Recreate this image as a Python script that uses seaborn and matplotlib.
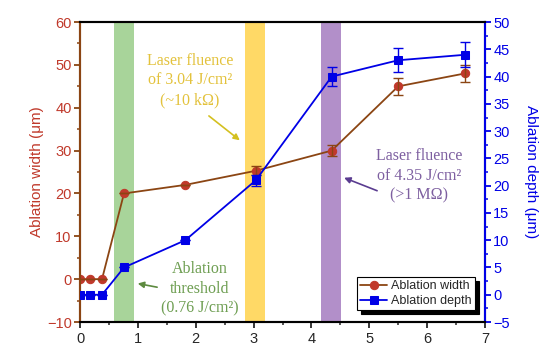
import matplotlib
matplotlib.use("Agg")
import matplotlib.pyplot as plt
from matplotlib.ticker import MultipleLocator
import seaborn as sns
import pandas as pd

# fluence (J/cm^2)
fluence = [0.0, 0.17, 0.38, 0.76, 1.82, 3.04, 4.35, 5.5, 6.65]
# ablation width (um), left axis
width = [0, 0, 0, 20, 22, 25.3, 30, 45, 48]
width_err = [0, 0, 0, 0, 0, 1.0, 1.2, 2.0, 2.0]
# ablation depth (um), right axis
depth = [0, 0, 0, 5, 10, 21, 40, 43, 44]
depth_err = [0, 0, 0, 0, 0, 1.0, 1.8, 2.2, 2.3]

# highlighted fluence bands (start, end)
bands = [(0.59, 0.93), (2.86, 3.19), (4.16, 4.51)]
band_colors = ["#a8d49a", "#ffd966", "#b28fc9"]

df = pd.DataFrame({"fluence": fluence, "width": width, "depth": depth})

sns.set_style("ticks")
plt.rcParams["font.family"] = ["Liberation Sans", "DejaVu Sans"]

brown = "#8b4513"
red = "#c0392b"
blue = "#0000e6"

fig = plt.figure(figsize=(5.5, 3.56), dpi=100)
ax = fig.add_axes([0.1455, 0.0955, 0.7363, 0.8425])
ax2 = ax.twinx()

for (x0, x1), c in zip(bands, band_colors):
    ax.axvspan(x0, x1, color=c, lw=0, zorder=0)

sns.lineplot(data=df, x="fluence", y="width", ax=ax, color=brown, lw=1.3,
             marker="o", markersize=6, markerfacecolor=red,
             markeredgecolor=red, label="Ablation width", legend=False, zorder=3)
ax.errorbar(fluence, width, yerr=width_err, fmt="none", ecolor=brown,
            elinewidth=1, capsize=3.5, capthick=1, zorder=3)

sns.lineplot(data=df, x="fluence", y="depth", ax=ax2, color=blue, lw=1.3,
             marker="s", markersize=6, markerfacecolor=blue,
             markeredgecolor=blue, label="Ablation depth", legend=False, zorder=3)
ax2.errorbar(fluence, depth, yerr=depth_err, fmt="none", ecolor=blue,
             elinewidth=1, capsize=3.5, capthick=1, zorder=3)

ax.set_xlim(0, 7)
ax.set_ylim(-10, 60)
ax2.set_ylim(-5, 50)
ax.xaxis.set_major_locator(MultipleLocator(1))
ax.xaxis.set_minor_locator(MultipleLocator(0.5))
ax.yaxis.set_major_locator(MultipleLocator(10))
ax.yaxis.set_minor_locator(MultipleLocator(5))
ax2.yaxis.set_major_locator(MultipleLocator(5))
ax2.yaxis.set_minor_locator(MultipleLocator(2.5))

ax.set_xlabel("")
ax.set_ylabel("Ablation width (\u03bcm)", color=red, fontsize=11, labelpad=2)
ax2.set_ylabel("Ablation depth (\u03bcm)", color=blue, fontsize=11, labelpad=20,
               rotation=270)

for a in (ax, ax2):
    for s in a.spines.values():
        s.set_linewidth(1.5)
ax2.spines["left"].set_color(brown)
ax2.spines["right"].set_color(blue)
ax2.spines["top"].set_color("black")
ax2.spines["bottom"].set_color("black")
ax.spines["left"].set_color(brown)

ax.tick_params(axis="x", which="major", labelsize=10.5, length=4, width=1.3, direction="out")
ax.tick_params(axis="x", which="minor", length=2.5, width=1.1, direction="out")
ax.tick_params(axis="y", which="major", labelsize=10.5, length=4, width=1.3,
               colors=brown, labelcolor=red, pad=2)
ax.tick_params(axis="y", which="minor", length=2.5, width=1.1, colors=brown)
ax2.tick_params(axis="y", which="major", labelsize=10.5, length=4, width=1.3,
                colors=blue, pad=2)
ax2.tick_params(axis="y", which="minor", length=2.5, width=1.1, colors=blue)

serif = ["Liberation Serif", "DejaVu Serif"]
ax.text(1.9, 46.4, "Laser fluence\nof 3.04 J/cm\u00b2\n(~10 k\u03a9)", ha="center", va="center",
        color="#e3c23c", fontsize=11.5, family=serif, linespacing=1.3)
ax.annotate("", xy=(2.80, 32), xytext=(2.19, 38.5),
            arrowprops=dict(arrowstyle="-|>", color="#d4c020", lw=1.2, mutation_scale=9))

ax.text(2.07, -2.3, "Ablation\nthreshold\n(0.76 J/cm\u00b2)", ha="center", va="center",
        color="#6e9e52", fontsize=11.5, family=serif, linespacing=1.3)
ax.annotate("", xy=(0.95, -0.9), xytext=(1.38, -2.0),
            arrowprops=dict(arrowstyle="-|>", color="#5d8a3f", lw=1.2, mutation_scale=9))

ax.text(5.86, 24.1, "Laser fluence\nof 4.35 J/cm\u00b2\n(>1 M\u03a9)", ha="center", va="center",
        color="#7d5fa0", fontsize=11.5, family=serif, linespacing=1.3)
ax.annotate("", xy=(4.52, 23.9), xytext=(5.18, 20.4),
            arrowprops=dict(arrowstyle="-|>", color="#5a3c90", lw=1.2, mutation_scale=9))

h1, l1 = ax.get_legend_handles_labels()
h2, l2 = ax2.get_legend_handles_labels()
leg = ax2.legend(h1 + h2, l1 + l2, loc="lower right", bbox_to_anchor=(0.975, 0.04),
                 borderaxespad=0.0,
                 fontsize=9, frameon=True, fancybox=False,
                 shadow={"color": "black", "alpha": 1.0, "ox": 3, "oy": -3},
                 edgecolor="black", borderpad=0.25, handlelength=2.2,
                 handletextpad=0.3, labelspacing=0.2)
leg.get_frame().set_linewidth(0.8)

fig.savefig("out.png", dpi=100)
